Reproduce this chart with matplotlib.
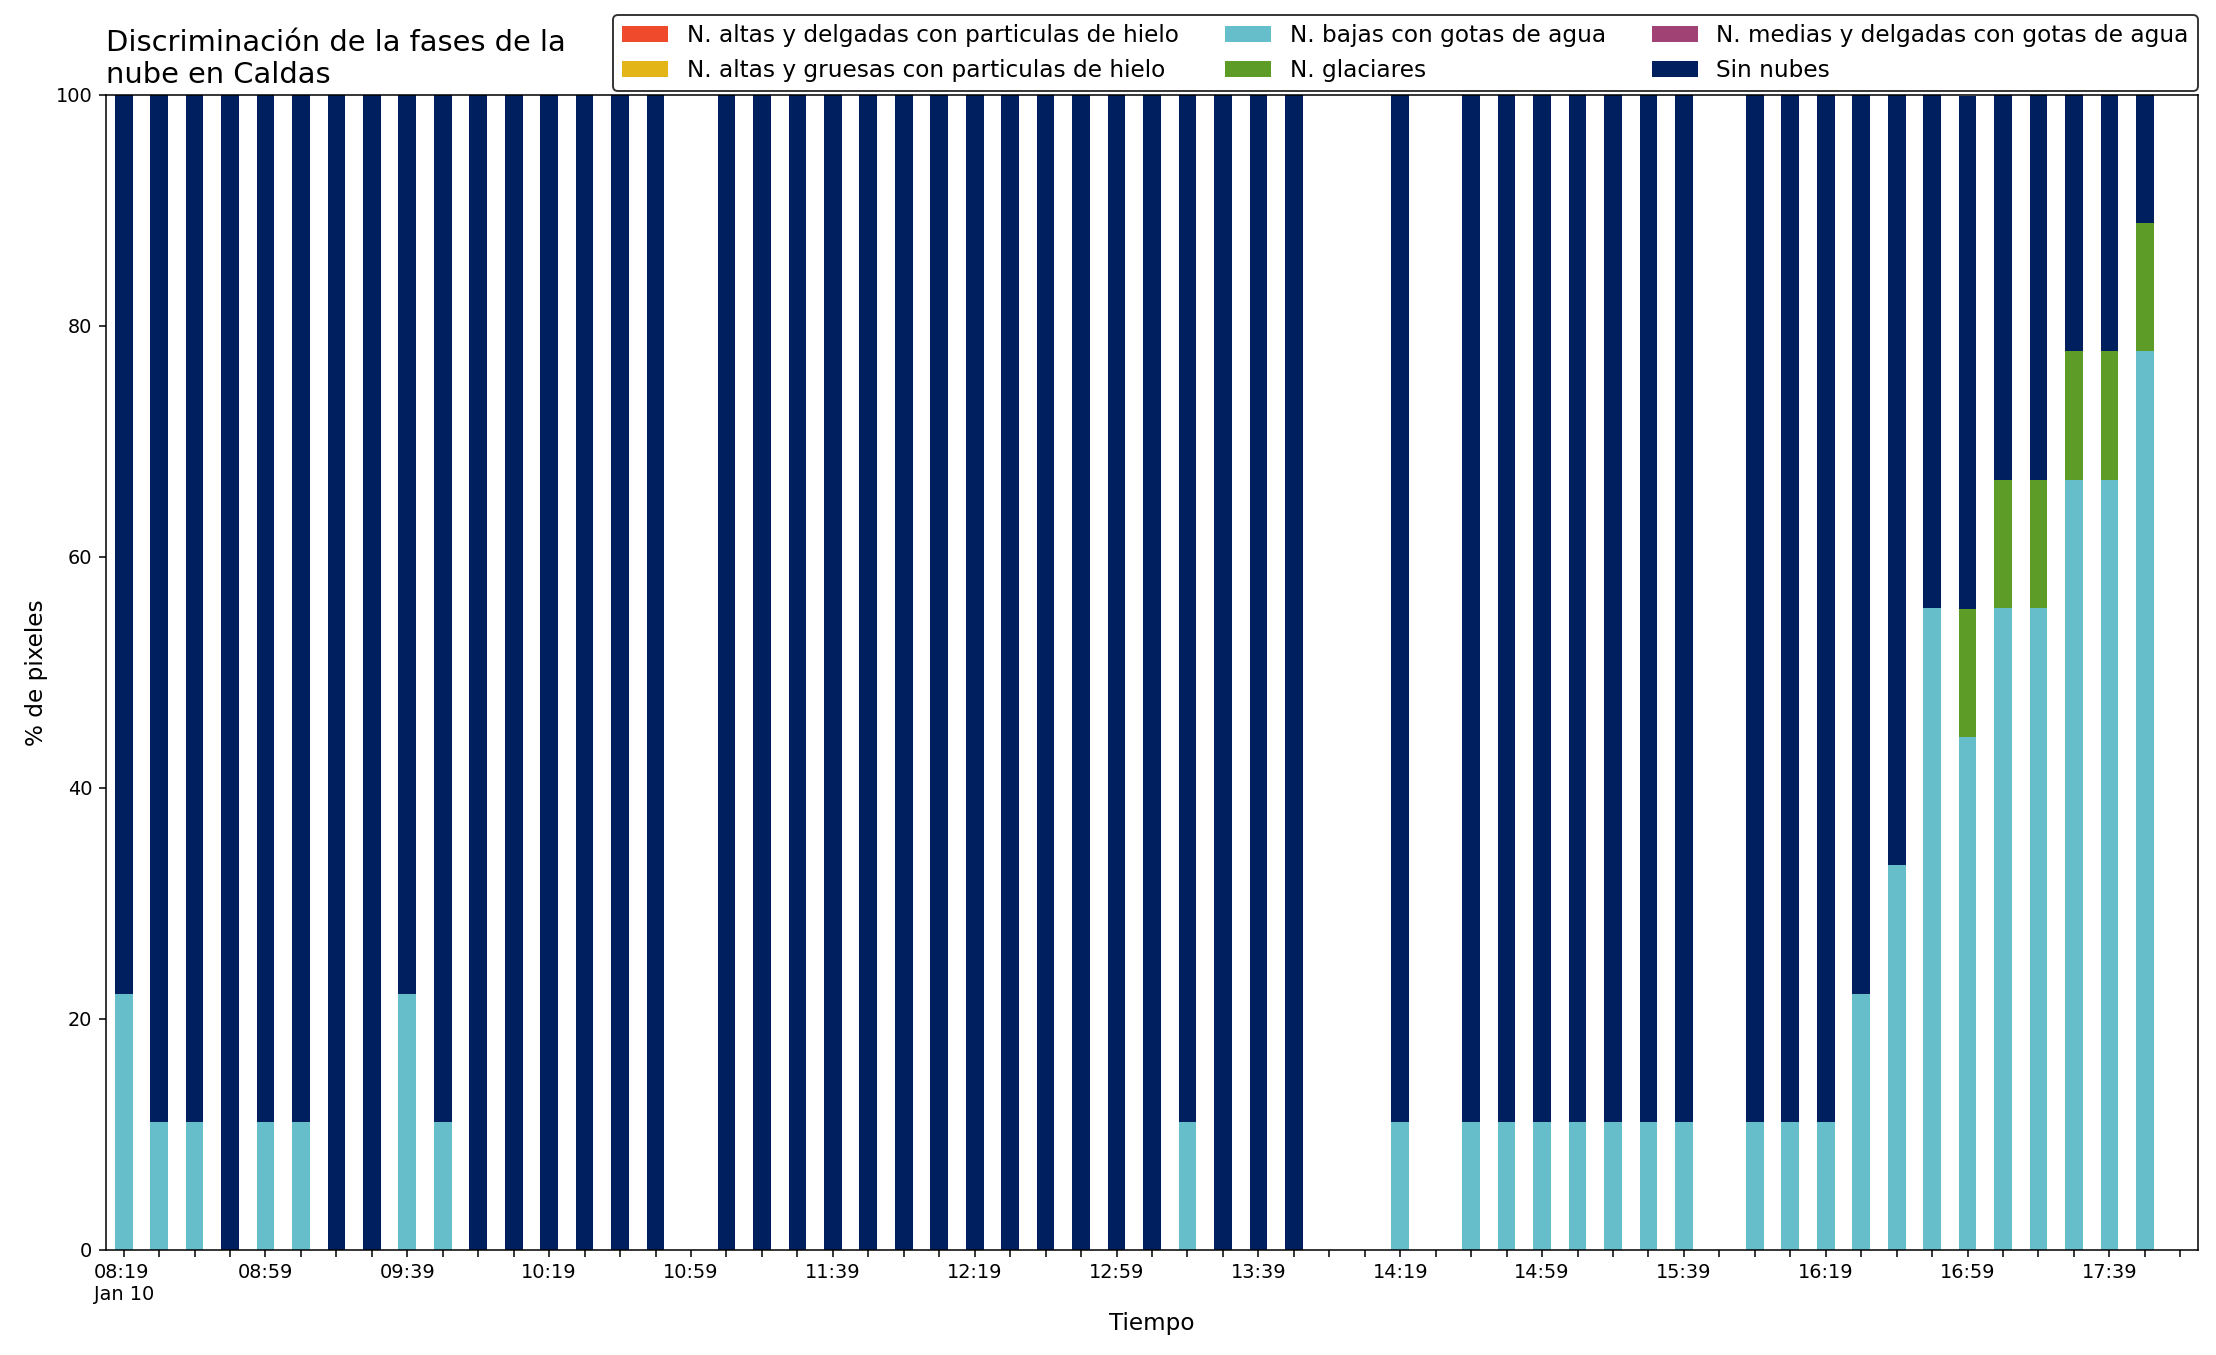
import numpy as np
import pandas as pd
import matplotlib
matplotlib.use("Agg")
import matplotlib.pyplot as plt

# ── Data ───────────────────────────────────────────────
# 10-minute steps, Jan 10, 08:19 -> 17:59 (None = no data)
times = pd.date_range("2024-01-10 08:19", "2024-01-10 17:59", freq="10min")

altas_delgadas = [0, 0, 0, 0, 0, 0, 0, 0, 0, 0,
                  0, 0, 0, 0, 0, 0, None, 0, 0, 0,
                  0, 0, 0, 0, 0, 0, 0, 0, 0, 0,
                  0, 0, 0, 0, None, None, 0, None, 0, 0,
                  0, 0, 0, 0, 0, None, 0, 0, 0, 0,
                  0, 0, 0, 0, 0, 0, 0, 0, None]
altas_gruesas = list(altas_delgadas)
bajas_agua = [22.2, 11.1, 11.1, 0, 11.1, 11.1, 0, 0, 22.2, 11.1,
              0, 0, 0, 0, 0, 0, None, 0, 0, 0,
              0, 0, 0, 0, 0, 0, 0, 0, 0, 0,
              11.1, 0, 0, 0, None, None, 11.1, None, 11.1, 11.1,
              11.1, 11.1, 11.1, 11.1, 11.1, None, 11.1, 11.1, 11.1, 22.2,
              33.3, 55.6, 44.4, 55.6, 55.6, 66.7, 66.7, 77.8, None]
glaciares = [0, 0, 0, 0, 0, 0, 0, 0, 0, 0,
             0, 0, 0, 0, 0, 0, None, 0, 0, 0,
             0, 0, 0, 0, 0, 0, 0, 0, 0, 0,
             0, 0, 0, 0, None, None, 0, None, 0, 0,
             0, 0, 0, 0, 0, None, 0, 0, 0, 0,
             0, 0, 11.1, 11.1, 11.1, 11.1, 11.1, 11.1, None]
medias_delgadas = list(altas_delgadas)
sin_nubes = [77.8, 88.9, 88.9, 100, 88.9, 88.9, 100, 100, 77.8, 88.9,
             100, 100, 100, 100, 100, 100, None, 100, 100, 100,
             100, 100, 100, 100, 100, 100, 100, 100, 100, 100,
             88.9, 100, 100, 100, None, None, 88.9, None, 88.9, 88.9,
             88.9, 88.9, 88.9, 88.9, 88.9, None, 88.9, 88.9, 88.9, 77.8,
             66.7, 44.4, 44.4, 33.3, 33.3, 22.2, 22.2, 11.1, None]

series = [
    ("N. altas y delgadas con particulas de hielo", altas_delgadas, "#F04A2C"),
    ("N. altas y gruesas con particulas de hielo", altas_gruesas, "#E3B517"),
    ("N. bajas con gotas de agua", bajas_agua, "#66BECA"),
    ("N. glaciares", glaciares, "#5C9C27"),
    ("N. medias y delgadas con gotas de agua", medias_delgadas, "#A04374"),
    ("Sin nubes", sin_nubes, "#001F5E"),
]

# ── Plot ───────────────────────────────────────────────
fig = plt.figure(figsize=(2216 / 138.5, 1355 / 138.5), dpi=138.5)
ax = fig.add_axes([0.0478, 0.0775, 0.9441, 0.8524])

x = np.arange(len(times))
bottom = np.zeros(len(times))
for label, vals, color in series:
    v = np.array([np.nan if a is None else a for a in vals], dtype=float)
    ax.bar(x, v, width=0.5, bottom=bottom, color=color, label=label)
    bottom = bottom + np.nan_to_num(v)

ax.set_xlim(-0.5, len(times) - 0.5)
ax.set_ylim(0, 100)
ax.set_yticks(range(0, 101, 20))

labels = []
for i, t in enumerate(times):
    if i % 4 != 0:
        labels.append("")
    elif i == 0:
        labels.append(t.strftime("%H:%M") + "\n" + t.strftime("%b %d"))
    else:
        labels.append(t.strftime("%H:%M"))
ax.set_xticks(x)
ax.set_xticklabels(labels, rotation=0, fontsize=10)
for tl in ax.get_xticklabels():
    tl.set_multialignment("left")
ax.tick_params(axis="y", labelsize=10)

ax.set_xlabel("Tiempo", fontsize=12)
ax.set_ylabel("% de pixeles", fontsize=12)
ax.set_title("Discriminación de la fases de la\nnube en Caldas", loc="left", fontsize=15)

leg = ax.legend(loc="lower right", bbox_to_anchor=(1.0, 1.0035), ncol=3,
                fontsize=12, borderaxespad=0, edgecolor="black")

fig.savefig("out.png", dpi=138.5)
